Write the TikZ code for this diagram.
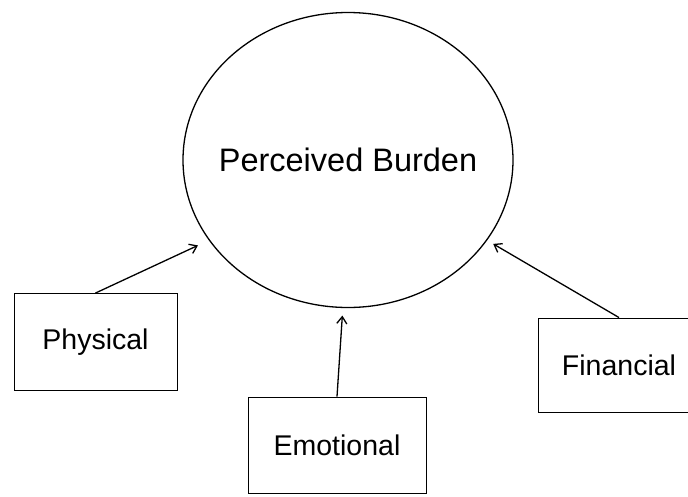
\documentclass[tikz,border=0pt]{standalone}
\usepackage{fontspec}
\setmainfont{Liberation Sans}
\usepackage{tikz}
\usetikzlibrary{positioning, arrows.meta, shapes.geometric}

\begin{document}
\begin{tikzpicture}[
    x=1pt, y=-1pt,
    factor/.style={draw, line width=0.9pt, inner sep=0pt, minimum height=97pt, align=center, font=\fontsize{28.5}{34}\selectfont},
    burden/.style={draw, ellipse, line width=1.3pt, inner sep=0pt, minimum width=330pt, minimum height=295pt},
    title/.style={font=\fontsize{32.5}{38}\selectfont},
    arrow/.style={-{Straight Barb[length=7pt, width=10pt]}, line width=1.3pt}
]
\useasboundingbox (0,0) rectangle (688,496);

\node[burden, label={[title]center:Perceived Burden}] (pb) at (348,160) {};

\node[factor, minimum width=163pt] (phys) at (95.5,342) {Physical};
\node[factor, minimum width=178pt, minimum height=96pt] (emo) at (337,445) {Emotional};
\node[factor, minimum width=162pt, minimum height=94pt] (fin) at (619,365) {Financial};

\draw[arrow, shorten >=12pt] (phys.north) -- (pb.210);
\draw[arrow, shorten >=7.5pt] (emo.north) -- (pb.268);
\draw[arrow, shorten >=7pt] (fin.north) -- (pb.330);
\end{tikzpicture}
\end{document}
